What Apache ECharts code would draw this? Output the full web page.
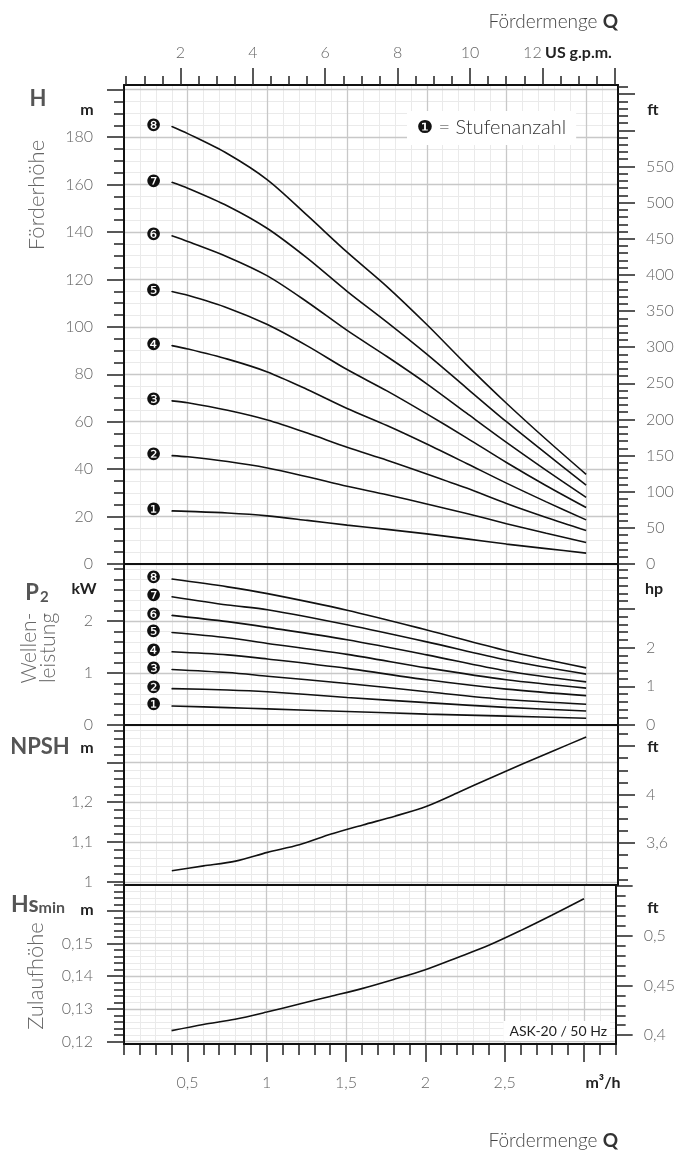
<!DOCTYPE html>
<html>
<head>
    <meta charset="utf-8">
    <title>ASK-20 / 50 Hz Kennlinien</title>
    <script src="https://cdn.jsdelivr.net/npm/echarts@6.0.0/dist/echarts.min.js"></script>
    <style>
        html, body { margin: 0; padding: 0; background: #fff; }
        #chart { width: 678px; height: 1157px; }
    </style>
</head>
<body>
    <div id="chart"></div>

    <script>
        // Fördermenge Q in m³/h
        const qH = [0.4, 0.5, 0.75, 1.0, 1.25, 1.5, 1.75, 2.0, 2.25, 2.5, 2.75, 3.0];
        // Förderhöhe H (m) je Stufenanzahl
        const hStufe1 = [22.4, 22.2, 21.5, 20.3, 18.4, 16.4, 14.6, 12.7, 10.6, 8.4, 6.5, 4.6];
        const hStufe2 = [45.7, 45.2, 43.2, 40.5, 36.8, 32.8, 29.2, 25.3, 21.3, 17.0, 13.0, 9.1];
        const hStufe3 = [68.8, 68.0, 64.8, 60.7, 55.2, 49.2, 43.8, 38.0, 32.0, 25.5, 19.6, 14.1];
        const hStufe4 = [92.1, 90.7, 86.4, 81.0, 73.6, 65.6, 58.4, 50.6, 42.4, 34.1, 26.2, 18.6];
        const hStufe5 = [114.9, 113.3, 108.0, 101.0, 92.0, 82.0, 73.0, 63.3, 53.2, 42.8, 33.0, 23.8];
        const hStufe6 = [138.4, 136.0, 129.5, 121.5, 110.5, 98.5, 87.5, 76.0, 63.6, 51.3, 39.5, 28.1];
        const hStufe7 = [161.0, 158.5, 151.0, 141.5, 129.0, 115.0, 102.0, 88.5, 74.2, 60.0, 46.5, 33.3];
        const hStufe8 = [184.5, 181.5, 173.0, 162.0, 147.0, 131.5, 117.0, 101.0, 84.0, 67.8, 52.5, 37.8];

        // Wellenleistung P2 (kW)
        const qP = [0.4, 0.75, 1.0, 1.5, 2.0, 2.5, 3.0];
        const pStufe1 = [0.366, 0.335, 0.31, 0.26, 0.21, 0.17, 0.13];
        const pStufe2 = [0.70, 0.675, 0.64, 0.53, 0.43, 0.34, 0.27];
        const pStufe3 = [1.07, 1.01, 0.94, 0.80, 0.64, 0.49, 0.40];
        const pStufe4 = [1.41, 1.35, 1.27, 1.09, 0.87, 0.69, 0.565];
        const pStufe5 = [1.78, 1.68, 1.57, 1.36, 1.10, 0.87, 0.71];
        const pStufe6 = [2.11, 1.99, 1.88, 1.64, 1.35, 1.04, 0.83];
        const pStufe7 = [2.47, 2.31, 2.22, 1.93, 1.60, 1.25, 0.98];
        const pStufe8 = [2.81, 2.66, 2.53, 2.21, 1.83, 1.43, 1.10];

        // NPSH (m) und Hs min (m)
        const qKurz = [0.4, 0.6, 0.8, 1.0, 1.2, 1.4, 1.6, 1.8, 2.0, 2.2, 2.4, 2.6, 2.8, 3.0];
        const npsh = [1.028, 1.04, 1.052, 1.074, 1.093, 1.12, 1.143, 1.165, 1.19, 1.225, 1.261, 1.296, 1.330, 1.364];
        const hsMin = [0.1233, 0.1252, 0.1268, 0.129, 0.1314, 0.1338, 0.1362, 0.139, 0.142, 0.1457, 0.1495, 0.154, 0.1588, 0.1638];

        const stufenZeichen = ['❶', '❷', '❸', '❹', '❺', '❻', '❼', '❽'];

        // Achsbeschriftungen
        const qLabels = [0.5, 1, 1.5, 2, 2.5];
        const gpmLabels = [2, 4, 6, 8, 10, 12];
        const hLabels = [0, 20, 40, 60, 80, 100, 120, 140, 160, 180];
        const hFtLabels = [0, 50, 100, 150, 200, 250, 300, 350, 400, 450, 500, 550];
        const kwLabels = [0, 1, 2];
        const hpLabels = [0, 1, 2];
        const npshLabels = [1, 1.1, 1.2];
        const npshFtLabels = [3.6, 4];
        const hsLabels = [0.12, 0.13, 0.14, 0.15];
        const hsFtLabels = [0.4, 0.45, 0.5];

        const M_PER_FT = 0.3048, KW_PER_HP = 0.7457, M3H_PER_GPM = 0.22712;
        const Q_MIN = 0.1, Q_MAX = 3.2;

        const FONT = 'Lato, "Open Sans", "DejaVu Sans", sans-serif';
        const MAJOR = { color: '#c8c8c8', width: 1.3 };
        const MINOR = { color: '#eaeaea', width: 1 };

        function steps(a, b, s) {
            const out = [];
            const n = Math.round((b - a) / s);
            for (let i = 0; i <= n; i++) out.push(+(a + i * s).toFixed(6));
            return out;
        }
        function minus(list, major) {
            return list.filter(v => !major.some(m => Math.abs(m - v) < 1e-6));
        }
        const komma = v => String(+(+v).toFixed(4)).replace('.', ',');

        // Ein Diagrammbereich je Kurvenart
        const panels = [
            { top: 85, height: 479, min: 0, max: 202, major: steps(0, 200, 20), minorStep: [0, 200, 5], labels: hLabels,
              rMin: 0, rMax: 202 / M_PER_FT, rMajor: steps(0, 650, 50), rMinorStep: [0, 660, 10], rLabels: hFtLabels },
            { top: 564, height: 161, min: 0, max: 3.1, major: [0, 1, 2], minorStep: [0, 3.0, 0.2], labels: kwLabels,
              rMin: 0, rMax: 3.1 / KW_PER_HP, rMajor: [0, 1, 2, 3], rMinorStep: [0, 4.0, 0.2], rLabels: hpLabels },
            { top: 725, height: 160, min: 0.992, max: 1.394, major: [1, 1.1, 1.2, 1.3], minorStep: [1.0, 1.38, 0.02], labels: npshLabels,
              rMin: 0.992 / M_PER_FT, rMax: 1.394 / M_PER_FT, rMajor: [3.6, 4.0, 4.4], rMinorStep: [3.3, 4.5, 0.1], rLabels: npshFtLabels },
            { top: 885, height: 159, min: 0.1192, max: 0.168, major: [0.12, 0.13, 0.14, 0.15, 0.16], minorStep: [0.12, 0.168, 0.002], labels: hsLabels,
              rMin: 0.1192 / M_PER_FT, rMax: 0.168 / M_PER_FT, rMajor: [0.4, 0.45, 0.5, 0.55], rMinorStep: [0.4, 0.55, 0.01], rLabels: hsFtLabels }
        ];

        function axis(o) {
            return {
                type: 'value', gridIndex: o.grid, position: o.pos, min: o.min, max: o.max, z: o.z || 0,
                axisLine: { show: !!o.line, onZero: false, lineStyle: { color: '#111', width: 2 } },
                axisTick: o.tickLen
                    ? { show: true, customValues: o.ticks, length: o.tickLen, lineStyle: { color: '#222', width: 1.5 } }
                    : { show: false, customValues: o.ticks },
                axisLabel: o.labels
                    ? { show: true, customValues: o.labels, margin: o.margin, formatter: o.fmt || komma,
                        color: '#666', fontSize: 16, fontFamily: FONT, fontWeight: 300, rich: o.rich }
                    : { show: false },
                splitLine: o.split ? { show: true, lineStyle: o.split } : { show: false }
            };
        }

        const grids = [], xAxes = [], yAxes = [];
        const qMajor = [0.5, 1, 1.5, 2, 2.5, 3];
        const qMinor = minus(steps(0.1, 3.2, 0.1), qMajor);

        panels.forEach((p, g) => {
            const last = g === panels.length - 1;
            grids.push({ left: 124, right: 60, top: p.top, height: p.height });

            xAxes.push(axis({ grid: g, pos: 'bottom', min: Q_MIN, max: Q_MAX, ticks: qMinor, tickLen: last ? 11 : 0, split: MINOR, z: 0 }));
            p.xi = xAxes.length;
            xAxes.push(axis({ grid: g, pos: 'bottom', min: Q_MIN, max: Q_MAX, ticks: qMajor, tickLen: last ? 18 : 0, split: MAJOR,
                              line: true, labels: last ? qLabels : null, margin: 31, z: 1 }));

            const minor = minus(steps(p.minorStep[0], p.minorStep[1], p.minorStep[2]), p.major);
            yAxes.push(axis({ grid: g, pos: 'left', min: p.min, max: p.max, ticks: minor, tickLen: 10, split: MINOR, z: 0 }));
            p.yi = yAxes.length;
            yAxes.push(axis({ grid: g, pos: 'left', min: p.min, max: p.max, ticks: p.major, tickLen: 17, split: MAJOR,
                              line: true, labels: p.labels, margin: 31, z: 1 }));

            const rMinor = minus(steps(p.rMinorStep[0], p.rMinorStep[1], p.rMinorStep[2]), p.rMajor);
            yAxes.push(axis({ grid: g, pos: 'right', min: p.rMin, max: p.rMax, ticks: rMinor, tickLen: 10, z: 1 }));
            yAxes.push(axis({ grid: g, pos: 'right', min: p.rMin, max: p.rMax, ticks: p.rMajor, tickLen: 17,
                              line: true, labels: p.rLabels, margin: 28, z: 1 }));
        });

        // obere Achse in US g.p.m.
        const gpmMajor = steps(2, 14, 2);
        const gpmMinor = minus(steps(0.5, 14, 0.5), gpmMajor);
        xAxes.push(axis({ grid: 0, pos: 'top', min: Q_MIN / M3H_PER_GPM, max: Q_MAX / M3H_PER_GPM, ticks: gpmMinor, tickLen: 9, z: 1 }));
        xAxes.push(axis({ grid: 0, pos: 'top', min: Q_MIN / M3H_PER_GPM, max: Q_MAX / M3H_PER_GPM, ticks: gpmMajor, tickLen: 17,
                          line: true, labels: gpmLabels, margin: 24, z: 1,
                          fmt: v => (+v === 12 ? '{r|12}' : String(+v)),
                          rich: { r: { padding: [0, 20, 0, 0], fontSize: 16, fontWeight: 300, color: '#666', fontFamily: FONT } } }));

        function curve(p, xs, ys, tag) {
            return {
                type: 'line', xAxisIndex: p.xi, yAxisIndex: p.yi, smooth: 0.3, symbol: 'none', z: 3,
                silent: true, lineStyle: { color: '#111', width: 1.6 },
                data: xs.map((x, i) => (i === 0 && tag) ? {
                    value: [x, ys[i]], symbol: 'circle', symbolSize: 1,
                    itemStyle: { color: '#111' },
                    label: { show: true, position: 'left', distance: 10, formatter: tag,
                             fontFamily: '"DejaVu Sans"', fontSize: 17, color: '#111' }
                } : [x, ys[i]])
            };
        }

        const series = [];
        [hStufe1, hStufe2, hStufe3, hStufe4, hStufe5, hStufe6, hStufe7, hStufe8]
            .forEach((v, i) => series.push(curve(panels[0], qH, v, stufenZeichen[i])));
        [pStufe1, pStufe2, pStufe3, pStufe4, pStufe5, pStufe6, pStufe7, pStufe8]
            .forEach((v, i) => series.push(curve(panels[1], qP, v, stufenZeichen[i])));
        series.push(curve(panels[2], qKurz, npsh));
        series.push(curve(panels[3], qKurz, hsMin));

        function txt(x, y, text, o) {
            o = o || {};
            return {
                type: 'text', x: x, y: y, rotation: o.rot || 0, z: 10, silent: true,
                style: {
                    text: text, textAlign: o.align || 'center', textVerticalAlign: 'middle',
                    fontFamily: o.font || FONT, fontSize: o.size || 16, fontWeight: o.weight || 'bold',
                    fill: o.color || '#222', rich: o.rich, lineHeight: o.lh,
                    backgroundColor: o.bg, padding: o.pad
                }
            };
        }
        const leicht = { size: 22, weight: 300, color: '#666', rot: Math.PI / 2 };

        const graphic = [
            txt(618, 22, '{a|Fördermenge }{b|Q}', { align: 'right', rich: {
                a: { fontSize: 19, fontWeight: 300, fill: '#444', fontFamily: FONT },
                b: { fontSize: 19, fontWeight: 'bold', fill: '#333', fontFamily: FONT } } }),
            txt(545, 53, 'US g.p.m.', { align: 'left', size: 16 }),
            txt(38, 99, 'H', { size: 22, color: '#555' }),
            txt(87, 110, 'm'),
            txt(37, 195, 'Förderhöhe', leicht),
            txt(653, 110, 'ft'),

            txt(37, 593, '{a|P}{b|2}', { rich: {
                a: { fontSize: 22, fontWeight: 'bold', fill: '#555', fontFamily: FONT },
                b: { fontSize: 15, fontWeight: 'bold', fill: '#555', fontFamily: FONT, padding: [8, 0, 0, 1] } } }),
            txt(84, 589, 'kW'),
            txt(39, 648, 'Wellen-\nleistung', Object.assign({}, leicht, { size: 21, lh: 19 })),
            txt(654, 589, 'hp'),

            txt(40, 747, 'NPSH', { size: 22, color: '#555' }),
            txt(87, 748, 'm'),
            txt(653, 747, 'ft'),

            txt(38, 905, '{a|Hs}{b|min}', { rich: {
                a: { fontSize: 23, fontWeight: 'bold', fill: '#555', fontFamily: FONT },
                b: { fontSize: 16, fontWeight: 'bold', fill: '#555', fontFamily: FONT, padding: [6, 0, 0, 0] } } }),
            txt(87, 910, 'm'),
            txt(36, 976, 'Zulaufhöhe', leicht),
            txt(653, 908, 'ft'),

            txt(603, 1083, 'm³/h'),
            txt(618, 1141, '{a|Fördermenge }{b|Q}', { align: 'right', rich: {
                a: { fontSize: 19, fontWeight: 300, fill: '#444', fontFamily: FONT },
                b: { fontSize: 19, fontWeight: 'bold', fill: '#333', fontFamily: FONT } } }),

            txt(407, 128, '{a|❶}{b| = Stufenanzahl}', { align: 'left', bg: '#fff', pad: [7, 10, 7, 10], rich: {
                a: { fontSize: 18, fill: '#111', fontFamily: '"DejaVu Sans"' },
                b: { fontSize: 20, fontWeight: 300, fill: '#333', fontFamily: FONT } } }),
            txt(610, 1031, 'ASK-20 / 50 Hz', { align: 'right', size: 14, weight: 'normal', color: '#222',
                font: '"Liberation Sans Narrow", Lato, sans-serif', bg: '#fff', pad: [3, 3, 3, 6] })
        ];

        const chart = echarts.init(document.getElementById('chart'));
        chart.setOption({
            animation: false,
            backgroundColor: '#fff',
            grid: grids,
            xAxis: xAxes,
            yAxis: yAxes,
            series: series,
            graphic: graphic
        });
    </script>
</body>
</html>
